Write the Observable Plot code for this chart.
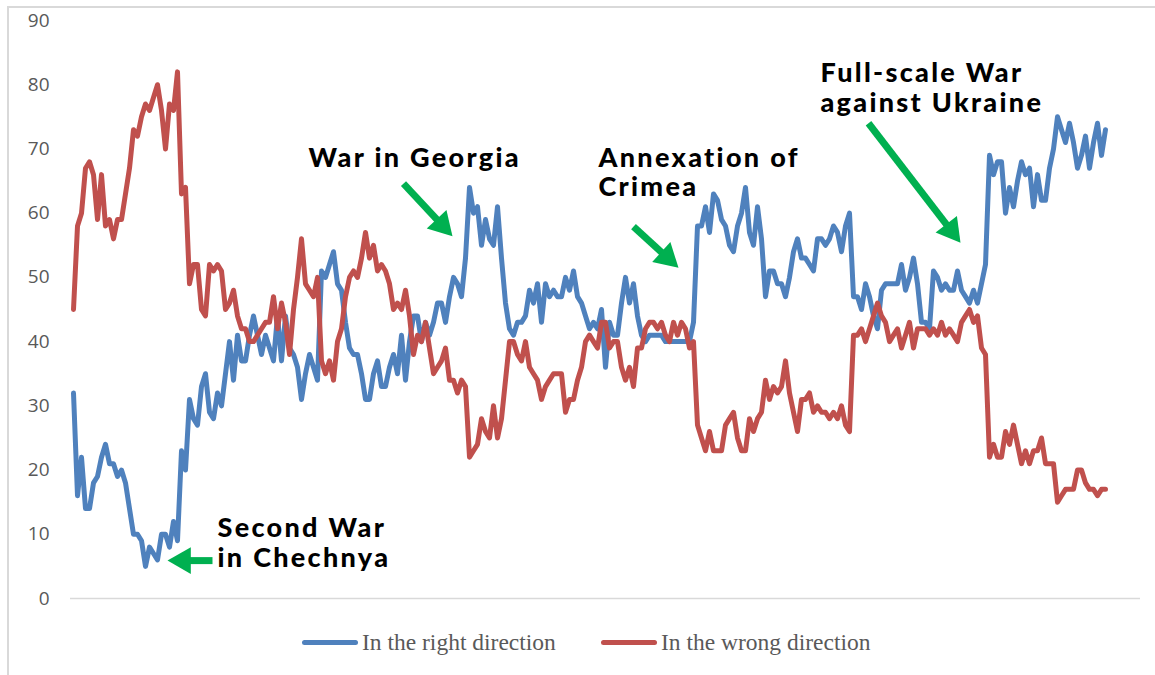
<!DOCTYPE html>
<html><head><meta charset="utf-8">
<script src="https://cdn.jsdelivr.net/npm/d3@7"></script>
<script src="https://cdn.jsdelivr.net/npm/@observablehq/plot@0.6"></script>
<style>
body{margin:0;background:#fff;width:1155px;height:675px;position:relative;overflow:hidden}
#frame{position:absolute;left:7px;top:6px;width:1200px;height:720px;border-left:2px solid #d9d9d9;border-top:2px solid #d9d9d9}
#chart{position:absolute;left:0;top:0}
#legend{position:absolute;top:626px;left:0;width:1155px;height:32px;font-family:"Liberation Serif","Times New Roman",serif;font-size:23.5px;color:#595959}
.item{position:absolute;top:0;height:32px;display:flex;align-items:center;white-space:nowrap}
.swatch{width:56px;height:5px;border-radius:3px;margin-right:4px}
</style></head><body>
<div id="frame"></div><div id="chart"></div><div id="legend"></div>
<script>
// Series values (one value per survey, in order)
const rightDirection = [32,16,22,14,14,18,19,22,24,21,21,19,20,18,14,10,10,9,5,8,7,6,10,10,8,12,9,23,20,31,
28,27,33,35,29,28,32,30,35,40,34,41,37,37,41,44,41,38,41,39,37,44,37,44,39,38,36,31,35,38,
36,34,51,50,52,54,49,48,43,39,38,38,35,31,31,35,37,33,33,36,38,35,41,34,40,44,44,40,43,41,
43,46,46,43,47,50,49,47,53,64,60,61,55,59,56,55,61,53,46,42,41,43,43,44,48,46,49,43,49,47,
48,47,47,50,48,51,47,46,44,42,43,42,45,36,43,41,41,46,50,46,49,44,41,40,41,41,41,41,40,40,
40,40,40,40,40,43,58,58,61,57,63,62,59,58,55,54,58,60,64,57,55,61,56,47,51,51,49,49,47,50,
54,56,53,53,52,51,56,56,55,56,58,57,54,58,60,47,47,45,49,47,44,42,48,49,49,49,49,52,48,50,
53,49,43,43,42,51,50,48,49,48,48,51,48,47,46,48,46,49,52,69,66,68,68,60,64,61,65,68,66,67,
61,66,62,62,67,70,75,73,71,74,71,67,69,72,67,71,74,69,73];
const wrongDirection = [45,58,60,67,68,66,59,66,58,59,56,59,59,63,67,73,72,75,77,76,78,80,76,70,77,76,82,63,64,49,
52,52,45,44,52,51,52,51,45,46,48,44,42,42,40,40,41,42,43,43,47,42,46,43,38,45,50,56,49,48,
47,50,37,35,37,34,40,42,47,50,51,50,53,57,53,55,51,52,51,49,45,46,45,48,44,38,41,40,43,39,
35,36,37,39,34,34,32,34,33,22,23,24,28,26,25,30,25,28,34,40,40,38,37,40,36,35,34,31,33,34,
35,35,35,29,31,31,34,36,40,41,40,39,43,43,39,40,40,36,34,36,33,39,39,42,43,43,42,43,41,40,
43,41,43,42,39,40,27,25,23,26,23,23,23,27,28,29,25,23,23,28,26,28,29,34,31,33,32,33,37,32,
29,26,31,31,32,29,30,29,29,28,29,28,30,27,26,41,41,42,40,42,44,46,44,43,40,41,42,39,41,43,
39,42,42,42,41,42,41,43,41,42,41,40,43,44,45,43,44,39,38,22,24,22,22,26,24,27,24,21,23,21,
23,23,25,21,21,21,15,16,17,17,17,20,20,18,17,17,16,17,17];
const yTicks = [0,10,20,30,40,50,60,70,80,90];
const seriesNames = ["In the right direction","In the wrong direction"];
const seriesColors = ["#4f81bd","#c0504d"];
// Annotation labels (survey index, percent)
const labelText = ["Second War\nin Chechnya","War in Georgia","Annexation of\nCrimea","Full-scale War\nagainst Ukraine"];
const labelX = [36, 58.75, 131.25, 186.75];
const labelY = [8.7, 68.7, 66.4, 79.6];
// Arrows: tail -> tip (survey index, percent)
const arrowX1 = [34.75, 82.5, 140, 198.75];
const arrowY1 = [5.9, 64.6, 57.9, 74.0];
const arrowX2 = [23.5, 94.75, 151.25, 221.75];
const arrowY2 = [5.9, 56.4, 51.5, 55.4];

const W = 1155, H = 620, mL = 70, mR = 15, mT = 20, mB = 22;
const xDomain = [-0.75, 266.75], yDomain = [0, 90];
const xs = d3.scaleLinear(xDomain, [mL, W - mR]);
const ys = d3.scaleLinear(yDomain, [H - mB, mT]);

const blue = rightDirection.map((v, i) => ({i, v}));
const red = wrongDirection.map((v, i) => ({i, v}));
const labels = labelText.map((t, k) => ({t, x: labelX[k], y: labelY[k]}));

const headR = 10;
const tipDist = 2 * Math.sqrt(Math.PI * headR * headR / (3 * Math.sqrt(3)));
const arrows = arrowX1.map((x1, k) => {
  const px1 = xs(x1), py1 = ys(arrowY1[k]), px2 = xs(arrowX2[k]), py2 = ys(arrowY2[k]);
  const dx = px2 - px1, dy = py2 - py1, len = Math.hypot(dx, dy);
  const cx = px2 - dx / len * tipDist, cy = py2 - dy / len * tipDist;
  return {x1, y1: arrowY1[k], hx: xs.invert(cx), hy: ys.invert(cy),
          angle: Math.atan2(dx, -dy) * 180 / Math.PI};
});

const green = "#00b050";
const chart = Plot.plot({
  width: W, height: H,
  marginLeft: mL, marginRight: mR, marginTop: mT, marginBottom: mB,
  style: {background: "transparent", overflow: "visible"},
  x: {domain: xDomain, axis: null},
  y: {domain: yDomain, axis: null},
  marks: [
    Plot.ruleY([0], {stroke: "#d9d9d9", strokeWidth: 1.5}),
    Plot.axisY(yTicks, {tickSize: 0, tickPadding: 21, fontSize: 19, fill: "#595959", label: null,
      fontFamily: "'Open Sans', 'Noto Sans', sans-serif"}),
    Plot.line(blue, {x: "i", y: "v", stroke: seriesColors[0], strokeWidth: 5, strokeLinejoin: "round", strokeLinecap: "round"}),
    Plot.line(red, {x: "i", y: "v", stroke: seriesColors[1], strokeWidth: 5, strokeLinejoin: "round", strokeLinecap: "round"}),
    Plot.link(arrows, {x1: "x1", y1: "y1", x2: "hx", y2: "hy", stroke: green, strokeWidth: 7}),
    Plot.dot(arrows, {x: "hx", y: "hy", symbol: "triangle", r: headR, fill: green, stroke: "none", rotate: "angle"}),
    Plot.text(labels, {x: "x", y: "y", text: "t", textAnchor: "start", fontSize: 27, fontWeight: 900,
      fontFamily: "Lato, 'Open Sans', sans-serif", fill: "#000", lineHeight: 1.1})
  ]
});
d3.select(chart).selectAll("g[aria-label='text'] text").attr("letter-spacing", "2.3px");
document.getElementById("chart").appendChild(chart);

const legend = document.getElementById("legend");
const legendLeft = [302, 601];
seriesNames.forEach((name, k) => {
  const item = document.createElement("div");
  item.className = "item";
  item.style.left = legendLeft[k] + "px";
  const sw = document.createElement("div");
  sw.className = "swatch";
  sw.style.background = seriesColors[k];
  item.appendChild(sw);
  item.appendChild(document.createTextNode(name));
  legend.appendChild(item);
});
</script>
</body></html>
